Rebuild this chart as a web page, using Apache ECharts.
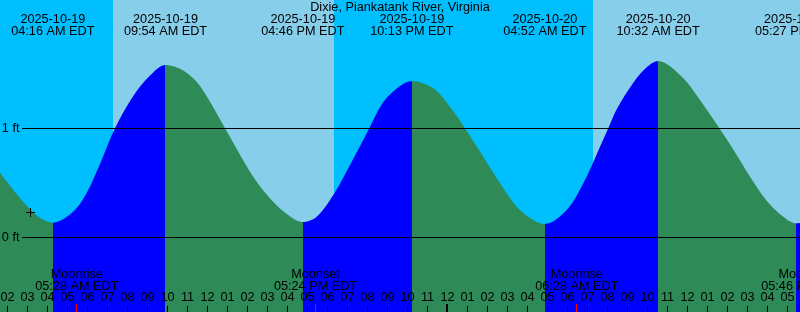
<!DOCTYPE html>
<html><head><meta charset="utf-8">
<script src="https://cdn.jsdelivr.net/npm/echarts@6/dist/echarts.min.js"></script>
<style>html,body{margin:0;padding:0;background:#fff}#c{width:800px;height:312px}</style>
</head><body><div id="c"></div>
<script>
const TITLE = 'Dixie, Piankatank River, Virginia';
// time = hours since 2025-10-19 00:00 EDT, height in feet
const TIDE_TIMES = [1.625, 2.625, 3.29, 3.79, 4.267, 5.21, 5.875, 6.625, 7.375, 8.29, 9.125, 9.9,
  10.79, 11.625, 12.875, 14.125, 14.96, 15.79, 16.767, 17.46, 18.29, 19.125, 20.09, 20.79, 21.625, 22.217,
  23.29, 24.125, 24.875, 25.79, 26.625, 27.46, 28.29, 28.867, 29.96, 30.79, 31.625, 32.04, 32.46, 33.29, 33.96, 34.533,
  35.79, 36.625, 37.59, 38.29, 39.125, 39.96, 40.79, 41.45, 42];
const TIDE_FEET = [0.594, 0.362, 0.229, 0.163, 0.136, 0.225, 0.381, 0.674, 1.002, 1.298, 1.486, 1.583,
  1.532, 1.390, 1.002, 0.604, 0.394, 0.240, 0.142, 0.191, 0.390, 0.665, 1.002, 1.243, 1.390, 1.436,
  1.369, 1.200, 1.002, 0.741, 0.497, 0.283, 0.161, 0.124, 0.252, 0.497, 0.833, 1.002, 1.176, 1.420, 1.561, 1.619,
  1.461, 1.261, 1.002, 0.807, 0.558, 0.338, 0.191, 0.130, 0.142];
const EXTREME_TIMES = [4.267, 9.9, 16.767, 22.217, 28.867, 34.533, 41.45];
const EXTREME_KINDS = ['low', 'high', 'low', 'high', 'low', 'high', 'low'];
const EXTREME_DATES = ['2025-10-19', '2025-10-19', '2025-10-19', '2025-10-19', '2025-10-20', '2025-10-20', '2025-10-20'];
const EXTREME_CLOCKS = ['04:16 AM EDT', '09:54 AM EDT', '04:46 PM EDT', '10:13 PM EDT', '04:52 AM EDT', '10:32 AM EDT', '05:27 PM EDT'];
const MOON_TIMES = [5.467, 17.4, 30.467, 41.767];
const MOON_NAMES = ['Moonrise', 'Moonset', 'Moonrise', 'Moonset'];
const MOON_CLOCKS = ['05:28 AM EDT', '05:24 PM EDT', '06:28 AM EDT', '05:46 PM EDT'];
const SUN_TIMES = [7.275, 18.325, 31.275];
const SUN_KINDS = ['rise', 'set', 'rise'];
const DAY_BOUNDARIES = [24];
const LEVEL_VALUES = [0, 1];
const LEVEL_LABELS = ['0 ft', '1 ft'];
const MARK_TIMES = [3.125];
const MARK_FEET = [0.229];

const X_MIN = 1, X_MAX = 42, Y_MIN = -0.6835, Y_MAX = 2.1789;
const C_NIGHT = '#00BFFF', C_DAY = '#87CEEB', C_FLOOD = '#0000FF', C_EBB = '#2E8B57', C_MARK = '#FF0000';
const FF = '"Liberation Sans", Arial, sans-serif', FS = 12.7;

// sky segments
const bounds = [X_MIN].concat(SUN_TIMES, [X_MAX]);
const skyData = [];
for (let i = 0; i < bounds.length - 1; i++) {
  const isDay = i === 0 ? (SUN_KINDS[0] === 'set' ? 1 : 0) : (SUN_KINDS[i - 1] === 'rise' ? 1 : 0);
  skyData.push([bounds[i], bounds[i + 1], isDay]);
}
// flood / ebb pieces
const pieces = [];
const colAfter = k => (k === 'low' ? C_FLOOD : C_EBB);
pieces.push({ lt: EXTREME_TIMES[0], color: EXTREME_KINDS[0] === 'low' ? C_EBB : C_FLOOD });
for (let i = 0; i < EXTREME_TIMES.length - 1; i++) {
  pieces.push({ gte: EXTREME_TIMES[i], lt: EXTREME_TIMES[i + 1], color: colAfter(EXTREME_KINDS[i]) });
}
pieces.push({ gte: EXTREME_TIMES[EXTREME_TIMES.length - 1], color: colAfter(EXTREME_KINDS[EXTREME_KINDS.length - 1]) });

const textStyle = (text, align) => ({ text, fill: '#000', fontSize: FS, fontFamily: FF, align: align || 'center', verticalAlign: 'top', lineHeight: 12 });

const chart = echarts.init(document.getElementById('c'), null, { renderer: 'canvas' });
chart.setOption({
  animation: false,
  title: { text: TITLE, left: 'center', top: 1.5, padding: 0, textStyle: { fontSize: FS, fontFamily: FF, fontWeight: 'normal', color: '#000', lineHeight: 12 } },
  grid: { left: -12.5, right: -7.5, top: 0, bottom: 0, outerBoundsMode: 'none', containLabel: false },
  xAxis: {
    type: 'value', min: X_MIN, max: X_MAX, interval: 1, position: 'bottom', z: 10,
    axisLine: { show: false, onZero: false }, splitLine: { show: false },
    axisTick: { show: true, inside: true, length: 6, lineStyle: { color: '#000', width: 1 } },
    axisLabel: {
      inside: true, margin: 8.5, color: '#000', fontSize: FS, fontFamily: FF, lineHeight: 12,
      hideOverlap: false, showMinLabel: true, showMaxLabel: true,
      formatter: v => String((Math.round(v) % 12) || 12).padStart(2, '0')
    }
  },
  yAxis: { type: 'value', min: Y_MIN, max: Y_MAX, show: false },
  visualMap: { type: 'piecewise', show: false, dimension: 0, seriesIndex: 1, pieces },
  series: [
    {
      type: 'custom', z: 0, silent: true, data: skyData,
      renderItem: (p, api) => {
        const a = api.coord([api.value(0), Y_MAX]);
        const b = api.coord([api.value(1), Y_MIN]);
        return { type: 'rect', shape: { x: a[0], y: a[1], width: b[0] - a[0], height: b[1] - a[1] }, style: { fill: api.value(2) ? C_DAY : C_NIGHT } };
      }
    },
    {
      type: 'line', z: 1, silent: true, smooth: 0.33, symbol: 'none',
      data: TIDE_TIMES.map((t, i) => [t, TIDE_FEET[i]]),
      lineStyle: { width: 0 }, areaStyle: { opacity: 1, origin: 'start' }
    },
    {
      type: 'custom', z: 3, silent: true, data: LEVEL_VALUES.map(v => [X_MIN, v]),
      renderItem: (p, api) => {
        const y = api.coord([X_MIN, api.value(1)])[1];
        const yy = Math.floor(y) + 0.5;
        return { type: 'group', children: [
          { type: 'line', shape: { x1: 22, y1: yy, x2: api.getWidth(), y2: yy }, style: { stroke: '#000', lineWidth: 1 } },
          { type: 'text', x: 19.5, y: y - 6, style: textStyle(LEVEL_LABELS[p.dataIndex], 'right') }
        ] };
      }
    },
    {
      type: 'custom', z: 4, silent: true, data: EXTREME_TIMES.map(t => [t, Y_MAX]),
      renderItem: (p, api) => {
        const x = api.coord([api.value(0), Y_MAX])[0];
        return { type: 'text', x: x, y: 13.5, style: textStyle(EXTREME_DATES[p.dataIndex] + '\n' + EXTREME_CLOCKS[p.dataIndex]) };
      }
    },
    {
      type: 'custom', z: 4, silent: true, data: MOON_TIMES.map(t => [t, Y_MIN]),
      renderItem: (p, api) => {
        const x = api.coord([api.value(0), Y_MIN])[0];
        const h = api.getHeight();
        return { type: 'group', children: [
          { type: 'text', x: x, y: 268, style: textStyle(MOON_NAMES[p.dataIndex] + '\n' + MOON_CLOCKS[p.dataIndex]) },
          { type: 'rect', shape: { x: Math.floor(x), y: h - 8, width: 1, height: 8 }, style: { fill: C_MARK } }
        ] };
      }
    },
    {
      type: 'custom', z: 5, silent: true, data: DAY_BOUNDARIES.map(t => [t, Y_MIN]),
      renderItem: (p, api) => {
        const x = api.coord([api.value(0), Y_MIN])[0];
        const h = api.getHeight();
        return { type: 'rect', shape: { x: Math.floor(x) - 1, y: h - 8, width: 2, height: 8 }, style: { fill: '#000' } };
      }
    },
    {
      type: 'custom', z: 5, silent: true, data: MARK_TIMES.map((t, i) => [t, MARK_FEET[i]]),
      renderItem: (p, api) => {
        const c = api.coord([api.value(0), api.value(1)]);
        const cx = Math.floor(c[0]), cy = Math.floor(c[1]);
        return { type: 'group', children: [
          { type: 'rect', shape: { x: cx - 4, y: cy, width: 9, height: 1 }, style: { fill: '#000' } },
          { type: 'rect', shape: { x: cx, y: cy - 4, width: 1, height: 9 }, style: { fill: '#000' } }
        ] };
      }
    }
  ]
});
</script></body></html>
